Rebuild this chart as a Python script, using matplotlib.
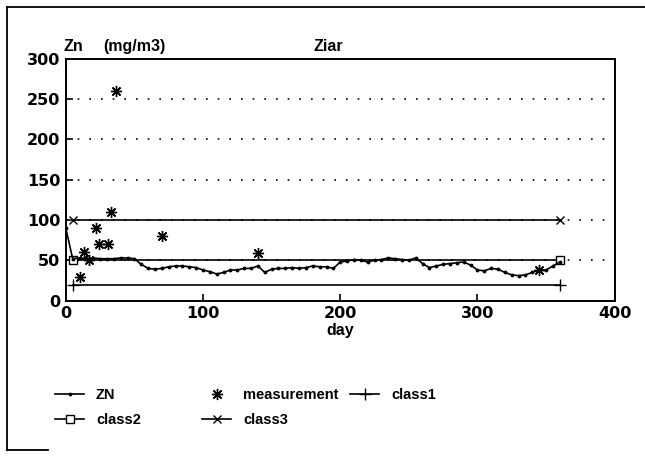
import matplotlib.pyplot as plt
from matplotlib.lines import Line2D

plt.rcParams['font.family'] = ['Liberation Sans', 'DejaVu Sans']
plt.rcParams['font.weight'] = 'bold'

# ZN kurva (odčítané z obrázku)
zn_day = [0, 5, 10, 15, 20, 25, 30, 35, 40, 45, 50, 55, 60, 65, 70, 75, 80, 85,
          90, 95, 100, 105, 110, 115, 120, 125, 130, 135, 140, 145, 150, 155,
          160, 165, 170, 175, 180, 185, 190, 195, 200, 205, 210, 215, 220, 225,
          230, 235, 240, 245, 250, 255, 260, 265, 270, 275, 280, 285, 290, 295,
          300, 305, 310, 315, 320, 325, 330, 335, 340, 345, 350, 355, 360]
zn_val = [90, 52, 53, 52, 53, 52, 52, 52, 53, 53, 52, 45, 40, 39, 40, 42, 43, 43,
          42, 41, 38, 36, 33, 35, 38, 38, 40, 40, 43, 35, 39, 40,
          40, 41, 40, 41, 43, 42, 42, 40, 48, 49, 51, 50, 48, 50,
          51, 53, 52, 51, 50, 53, 46, 41, 43, 45, 46, 47, 48, 44,
          38, 37, 40, 39, 35, 32, 31, 32, 35, 38, 38, 43, 48]

# merania
meas_day = [10.5, 13.5, 17, 22, 24.5, 30.5, 33, 36.5, 70, 140, 345]
meas_val = [29, 60, 51, 90, 70, 70, 110, 260, 80, 59, 38]

# triedy
class_day = [5, 360]
class1 = [20, 20]
class2 = [50, 50]
class3 = [100, 100]

fig = plt.figure(figsize=(6.45, 4.59), dpi=100)
ax = fig.add_axes([0.102, 0.345, 0.851, 0.527])

for y in [50, 100, 150, 200, 250]:
    ax.axhline(y, color='black', linestyle=(0, (1, 6)), linewidth=1.2, zorder=1)

l1, = ax.plot(class_day, class1, color='black', linewidth=1.2, marker='+', markersize=8)
l2, = ax.plot(class_day, class2, color='black', linewidth=1.2, marker='s', markersize=6,
              markerfacecolor='white')
l3, = ax.plot(class_day, class3, color='black', linewidth=1.2, marker='x', markersize=6)
lz, = ax.plot(zn_day, zn_val, color='black', linewidth=1.2, marker='.', markersize=3.5)
lm, = ax.plot(meas_day, meas_val, linestyle='none', color='black', marker=(8, 2, 0),
              markersize=8, markeredgewidth=1.0)

ax.set_xlim(0, 400)
ax.set_ylim(0, 300)
ax.set_xticks([0, 100, 200, 300, 400])
ax.set_yticks([0, 50, 100, 150, 200, 250, 300])
ax.tick_params(direction='in', length=5, width=1.2, pad=4)
for lab in ax.get_xticklabels() + ax.get_yticklabels():
    lab.set_fontfamily('DejaVu Sans')
    lab.set_fontweight('bold')
    lab.set_fontsize(11.5)
for s in ax.spines.values():
    s.set_linewidth(1.4)

ax.set_xlabel('day', fontsize=11.5, fontweight='bold', labelpad=1)
fig.text(63 / 645, 1 - 54 / 459, 'Zn', fontsize=11.5, fontweight='bold', ha='left', va='bottom')
fig.text(103 / 645, 1 - 54 / 459, '(mg/m3)', fontsize=11.5, fontweight='bold', ha='left', va='bottom')
fig.text(313 / 645, 1 - 54 / 459, 'Ziar', fontsize=11.5, fontweight='bold', ha='left', va='bottom')

# legenda: tri stĺpce umiestnené samostatne
cols = [([lz, l2], ['ZN', 'class2'], 45),
        ([lm, l3], ['measurement', 'class3'], 192),
        ([l1], ['class1'], 340)]
for hs, labs, x0 in cols:
    leg = fig.legend(hs, labs, loc='upper left', bbox_to_anchor=(x0 / 645, 1 - 378 / 459),
                     frameon=False, fontsize=10.5, handlelength=2.0,
                     handletextpad=0.8, labelspacing=0.75, borderpad=0.2)

# vonkajší rám
fig.add_artist(Line2D([0.011, 0.011], [0.02, 0.985], color='black', linewidth=1.3))
fig.add_artist(Line2D([0.011, 1.0], [0.985, 0.985], color='black', linewidth=1.3))
fig.add_artist(Line2D([0.011, 0.075], [0.02, 0.02], color='black', linewidth=1.3))

fig.savefig('out.png', dpi=100)
